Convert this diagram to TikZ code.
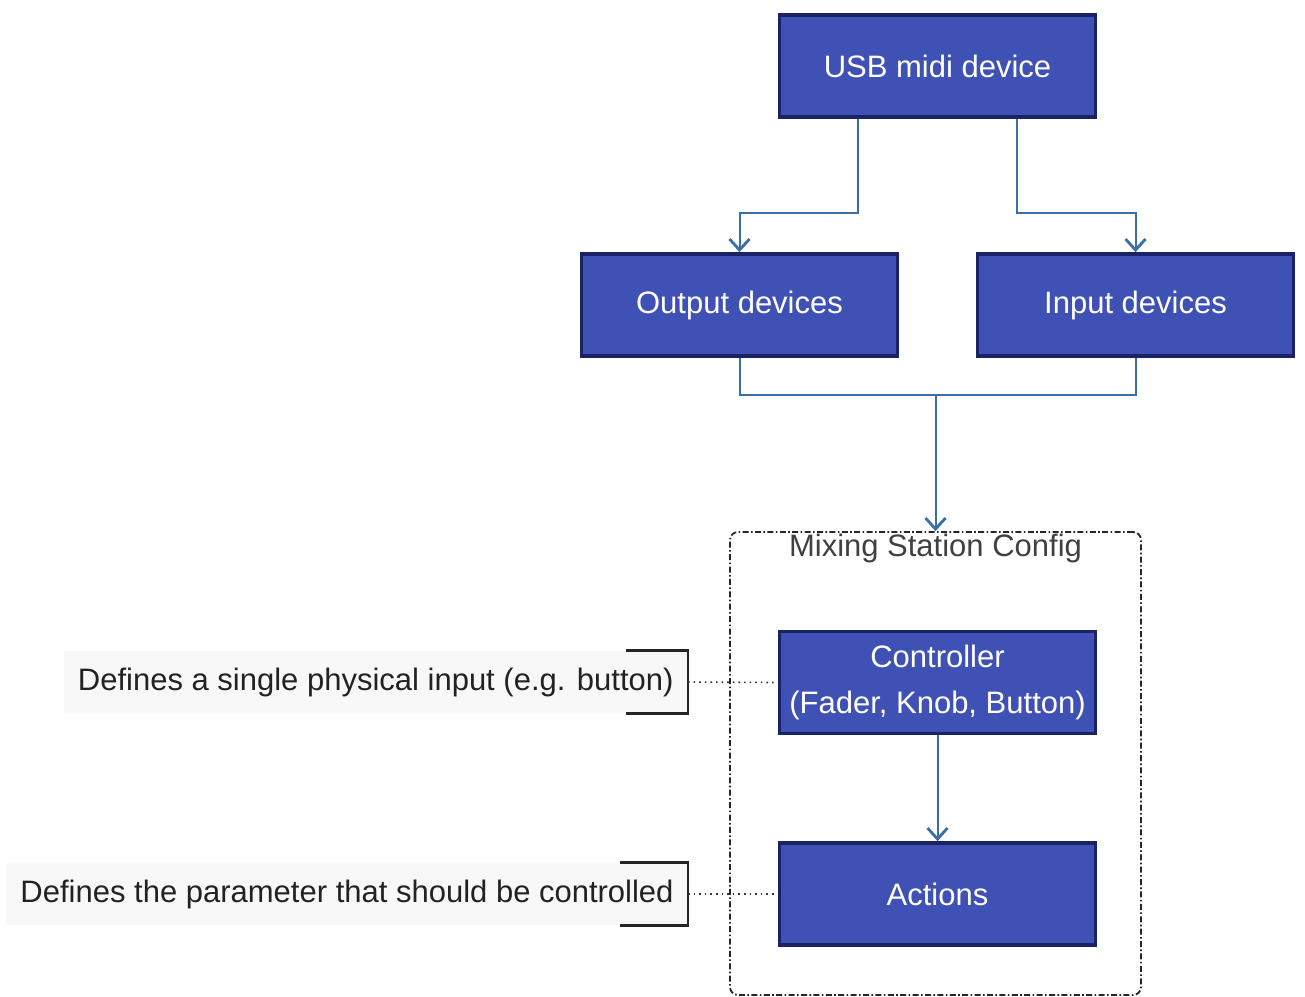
\documentclass[tikz,border=0pt]{standalone}
\usepackage{fontspec}
\setmainfont{Liberation Sans}
\usetikzlibrary{arrows.meta}

\definecolor{boxfill}{HTML}{3F51B5}
\definecolor{boxline}{HTML}{1A2366}
\definecolor{flowline}{RGB}{58,110,165}
\definecolor{notefill}{HTML}{F8F8F8}
\definecolor{notetext}{HTML}{222222}

\tikzset{
    devbox/.style={draw=boxline, line width=1.9pt, fill=boxfill, text=white,
        minimum width=158pt, minimum height=51pt, inner sep=0pt, align=center,
        font=\fontsize{15.5}{23}\selectfont},
    flow/.style={draw=flowline, line width=1pt},
    note/.style={fill=notefill, text=notetext, inner xsep=7pt, inner ysep=0pt,
        minimum height=31pt, anchor=east, font=\fontsize{15.5}{18}\selectfont},
    bracket/.style={draw=black!85, line width=1.2pt},
    link/.style={draw=black!80, dotted, line width=0.8pt}
}

\begin{document}
\begin{tikzpicture}[x=0.5pt, y=-0.5pt, >={Straight Barb[length=5.5pt,width=10pt,line width=1.4pt]}]
    \useasboundingbox (0,0) rectangle (1305,996);

    % group frame
    \node[draw=black!85, dash pattern=on 3pt off 1.2pt on 0.8pt off 1.2pt, line width=0.9pt, rounded corners=4pt,
        minimum width=205.5pt, minimum height=231.5pt, inner sep=0pt] (cfg) at (935.5,763.5) {};
    \node[text=black!75, font=\fontsize{15.5}{18}\selectfont] (cfgtitle) at (935.5,548) {Mixing Station Config};

    % devices
    \node[devbox] (usb) at (937.5,66) {USB midi device};
    \node[devbox] (out) at (739.5,305) {Output devices};
    \node[devbox] (inp) at (1135.5,305) {Input devices};
    \node[devbox] (ctrl) at (937.5,682.5) {Controller\\(Fader, Knob, Button)};
    \node[devbox] (act) at (937.5,894) {Actions};

    \draw[flow, ->] ([xshift=-40pt]usb.south) -- ++(0,94) -| (out.north);
    \draw[flow, ->] ([xshift=39.5pt]usb.south) -- ++(0,94) -| (inp.north);
    \draw[flow] (out.south) -- ++(0,37) -| (inp.south);
    \coordinate (jn) at (935.5,395);
    \draw[flow, ->] (jn) -- (cfg.north);
    \draw[flow, ->] (ctrl.south) -- (act.north);

    % notes
    \node[note] (note1) at (688,682) {Defines a single physical input (e.g. button)};
    \node[note] (note2) at (688,894) {Defines the parameter that should be controlled};
    \draw[bracket] ([xshift=-31pt]note1.north east) -- (note1.north east) -- (note1.south east) -- ++(-62,0);
    \draw[bracket] ([xshift=-34pt]note2.north east) -- (note2.north east) -- (note2.south east) -- ++(-68,0);
    \draw[link] (note1.east) -- (ctrl.west);
    \draw[link] (note2.east) -- (act.west);
\end{tikzpicture}
\end{document}
